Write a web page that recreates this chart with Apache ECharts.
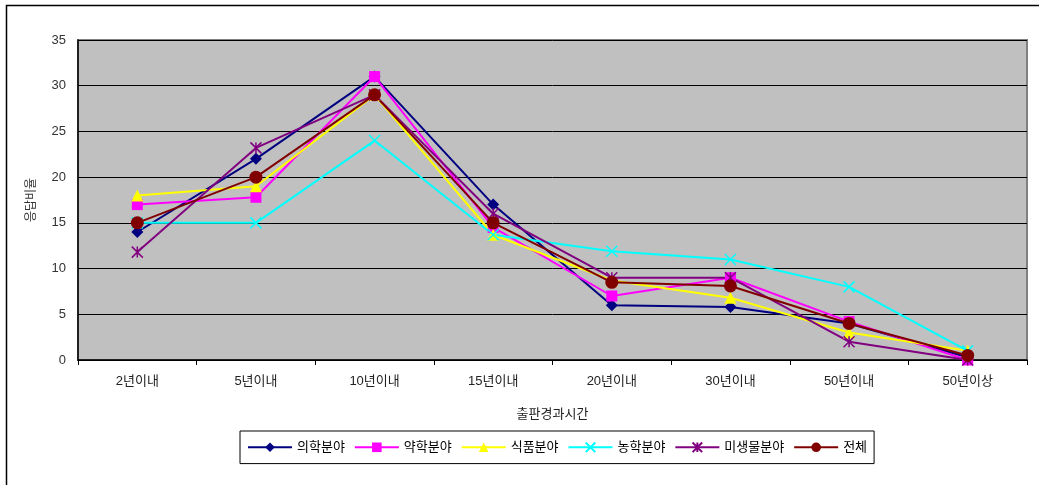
<!DOCTYPE html>
<html>
<head>
<meta charset="utf-8">
<script src="https://cdn.jsdelivr.net/npm/echarts@6/dist/echarts.min.js"></script>
<style>
html, body { margin: 0; padding: 0; background: #fff; }
#container { width: 1039px; height: 485px; }
</style>
</head>
<body>
<div id="container"></div>
<script>
let categories = ['2년이내', '5년이내', '10년이내', '15년이내', '20년이내', '30년이내', '50년이내', '50년이상'];
let medical = [14, 22, 31, 17, 6, 5.8, 4, 0.3];
let pharmacy = [17, 17.8, 31, 14.5, 7, 9, 4.2, 0];
let food = [18, 19, 29, 13.7, 8.7, 6.8, 3, 1];
let agriculture = [15, 15, 24, 13.7, 11.9, 11, 8, 1];
let microbe = [11.8, 23.2, 29, 16, 9, 9, 2, 0];
let total = [15, 20, 29, 15, 8.5, 8.1, 4, 0.5];
let yTicks = [0, 5, 10, 15, 20, 25, 30, 35];

let crossPath = 'path://M0,0L10,10M10,0L0,10';
let starPath = 'path://M0,0L10,10M10,0L0,10M5,0L5,10';

function makeSeries(name, data, color, symbol, size, stroked) {
    return {
        name: name,
        type: 'line',
        data: data,
        symbol: symbol,
        symbolSize: size,
        lineStyle: { color: color, width: 2 },
        itemStyle: stroked
            ? { color: 'none', borderColor: color, borderWidth: 1.5 }
            : { color: color },
        emphasis: { disabled: true }
    };
}

let chart = echarts.init(document.getElementById('container'));
chart.setOption({
    animation: false,
    textStyle: { fontFamily: '"Liberation Sans", "Noto Sans CJK KR", sans-serif' },
    graphic: [{
        type: 'rect',
        shape: { x: 6.5, y: 5.5, width: 1200, height: 600 },
        style: { fill: 'none', stroke: '#000', lineWidth: 1.5 },
        silent: true
    }],
    grid: {
        left: 78, top: 40, right: 12, bottom: 125,
        show: true,
        backgroundColor: '#c0c0c0',
        borderColor: '#808080',
        borderWidth: 2
    },
    legend: {
        top: 431,
        left: 240,
        itemWidth: 44,
        itemHeight: 12,
        itemGap: 9,
        borderColor: '#000',
        borderWidth: 1,
        padding: [9, 7],
        textStyle: { fontSize: 13, color: '#000' },
        data: ['의학분야', '약학분야', '식품분야', '농학분야', '미생물분야', '전체']
    },
    xAxis: {
        type: 'category',
        data: categories,
        boundaryGap: true,
        name: '출판경과시간',
        nameLocation: 'middle',
        nameGap: 48,
        nameTextStyle: { fontSize: 13, color: '#222' },
        axisLine: { lineStyle: { color: '#000', width: 1.5 } },
        axisTick: { show: true, length: 5, lineStyle: { color: '#000' } },
        axisLabel: { fontSize: 13, color: '#222', margin: 15 }
    },
    yAxis: {
        type: 'value',
        min: 0,
        max: 35,
        interval: 5,
        name: '응답비율',
        nameLocation: 'middle',
        nameGap: 40,
        nameTextStyle: { fontSize: 12, color: '#333' },
        axisLine: { show: true, lineStyle: { color: '#000', width: 1.5 } },
        axisTick: { show: true, length: 5, inside: true, lineStyle: { color: '#000' } },
        axisLabel: {
            fontSize: 13, color: '#333', margin: 12,
            formatter: (v) => yTicks.includes(v) ? String(v) : ''
        },
        splitLine: { lineStyle: { color: '#000', width: 1 } }
    },
    series: [
        makeSeries('의학분야', medical, '#000080', 'diamond', 12, false),
        makeSeries('약학분야', pharmacy, '#ff00ff', 'rect', 11, false),
        makeSeries('식품분야', food, '#ffff00', 'triangle', 12, false),
        makeSeries('농학분야', agriculture, '#00ffff', crossPath, 11, true),
        makeSeries('미생물분야', microbe, '#800080', starPath, 11, true),
        makeSeries('전체', total, '#800000', 'circle', 13, false)
    ]
});
</script>
</body>
</html>
